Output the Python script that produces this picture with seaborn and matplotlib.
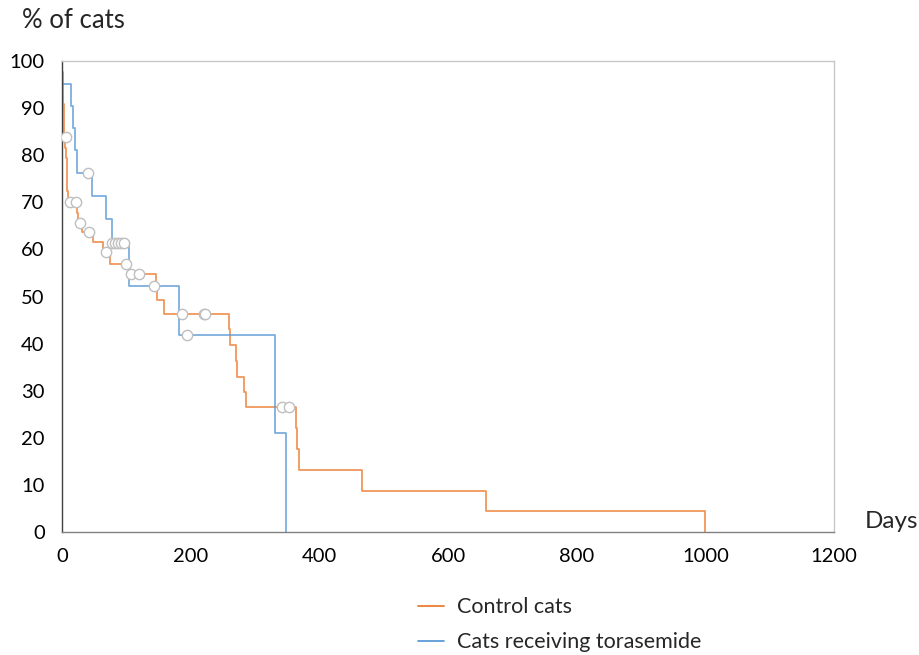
import numpy as np
import pandas as pd
import matplotlib
matplotlib.use("Agg")
import matplotlib.pyplot as plt
import seaborn as sns
from matplotlib.lines import Line2D

# Kaplan-Meier steps (day, % of cats still in the group)
control_days = [0, 0.5, 1, 1.5, 2, 2.5, 3, 3.5, 5, 6, 7, 7.5, 8, 9,
                23, 25, 31.6, 47.7, 64, 74.6, 104, 146, 147, 158.5,
                260, 261, 270, 271.5, 283, 285.5, 363.6, 366, 369,
                467, 659, 1000]
control_pct = [100, 97.7, 95.4, 93.1, 90.8, 88.5, 86.2, 83.9, 81.6, 79.3, 77.0, 74.7, 72.4, 70.0,
               67.8, 65.6, 63.8, 61.6, 59.4, 57.0, 54.7, 52.0, 49.2, 46.3,
               43.0, 39.8, 36.4, 33.0, 29.8, 26.5, 22.1, 17.6, 13.2,
               8.8, 4.4, 0]
control_cens_days = [5.7, 12.4, 21, 28, 42, 69, 99, 107, 120, 187, 220, 223, 342, 353]
control_cens_pct = [83.9, 70.0, 70.0, 65.6, 63.8, 59.4, 57.0, 54.7, 54.7, 46.3, 46.3, 46.3, 26.5, 26.5]

tora_days = [0, 0.5, 13.5, 16.6, 20, 23, 46, 68, 77, 104, 182, 330.5, 347.6]
tora_pct = [100, 95.2, 90.5, 85.7, 81.0, 76.2, 71.4, 66.5, 61.3, 52.3, 41.8, 21.0, 0]
tora_cens_days = [40, 78, 83, 87, 92, 96, 143, 195]
tora_cens_pct = [76.2, 61.3, 61.3, 61.3, 61.3, 61.3, 52.3, 41.8]

orange = "#ED7D31"
blue = "#5B9BD5"

sns.set_style("white")
plt.rcParams["font.family"] = ["Lato", "DejaVu Sans"]

steps = pd.concat([
    pd.DataFrame({"day": control_days, "pct": control_pct, "group": "Control cats"}),
    pd.DataFrame({"day": tora_days, "pct": tora_pct, "group": "Cats receiving torasemide"}),
])
cens = pd.concat([
    pd.DataFrame({"day": control_cens_days, "pct": control_cens_pct}),
    pd.DataFrame({"day": tora_cens_days, "pct": tora_cens_pct}),
])

fig = plt.figure(figsize=(9.19, 6.55), dpi=100)
ax = fig.add_axes([62 / 919, 1 - 532 / 655, (834 - 62) / 919, (532 - 61) / 655])

sns.lineplot(data=steps, x="day", y="pct", hue="group", estimator=None, sort=False,
             palette={"Control cats": orange, "Cats receiving torasemide": blue},
             drawstyle="steps-post", linewidth=1.3, alpha=0.8, legend=False, ax=ax)
sns.scatterplot(data=cens, x="day", y="pct", s=55, facecolor="white",
                edgecolor="#BFBFBF", linewidth=1.0, zorder=5, ax=ax)

ax.set_xlim(0, 1200)
ax.set_ylim(0, 100)
ax.set_xticks(range(0, 1201, 200))
ax.set_yticks(range(0, 101, 10))
ax.set_xlabel("")
ax.set_ylabel("")
ax.tick_params(axis="both", direction="inout", length=7, width=1, colors="#595959",
               labelsize=14.5, labelcolor="black")
ax.tick_params(axis="x", pad=8)
ax.tick_params(axis="y", pad=9)

ax.spines["left"].set_color("#404040")
ax.spines["bottom"].set_color("#808080")
ax.spines["top"].set_color("#C8C8C8")
ax.spines["right"].set_color("#C8C8C8")
for s in ax.spines.values():
    s.set_linewidth(1.0)

fig.text(22 / 919, 1 - 20 / 655, "% of cats", fontsize=18.5, va="center", ha="left")
fig.text(865 / 919, 1 - 522 / 655, "Days", fontsize=17.5, va="center", ha="left")

handles = [Line2D([], [], color=orange, lw=1.3), Line2D([], [], color=blue, lw=1.3)]
fig.legend(handles, ["Control cats", "Cats receiving torasemide"], loc="upper left",
           bbox_to_anchor=(399 / 919, 1 - 578 / 655), frameon=False, fontsize=15.5,
           handlelength=1.2, handletextpad=0.6, labelspacing=0.7)

fig.savefig("out.png", dpi=100)
